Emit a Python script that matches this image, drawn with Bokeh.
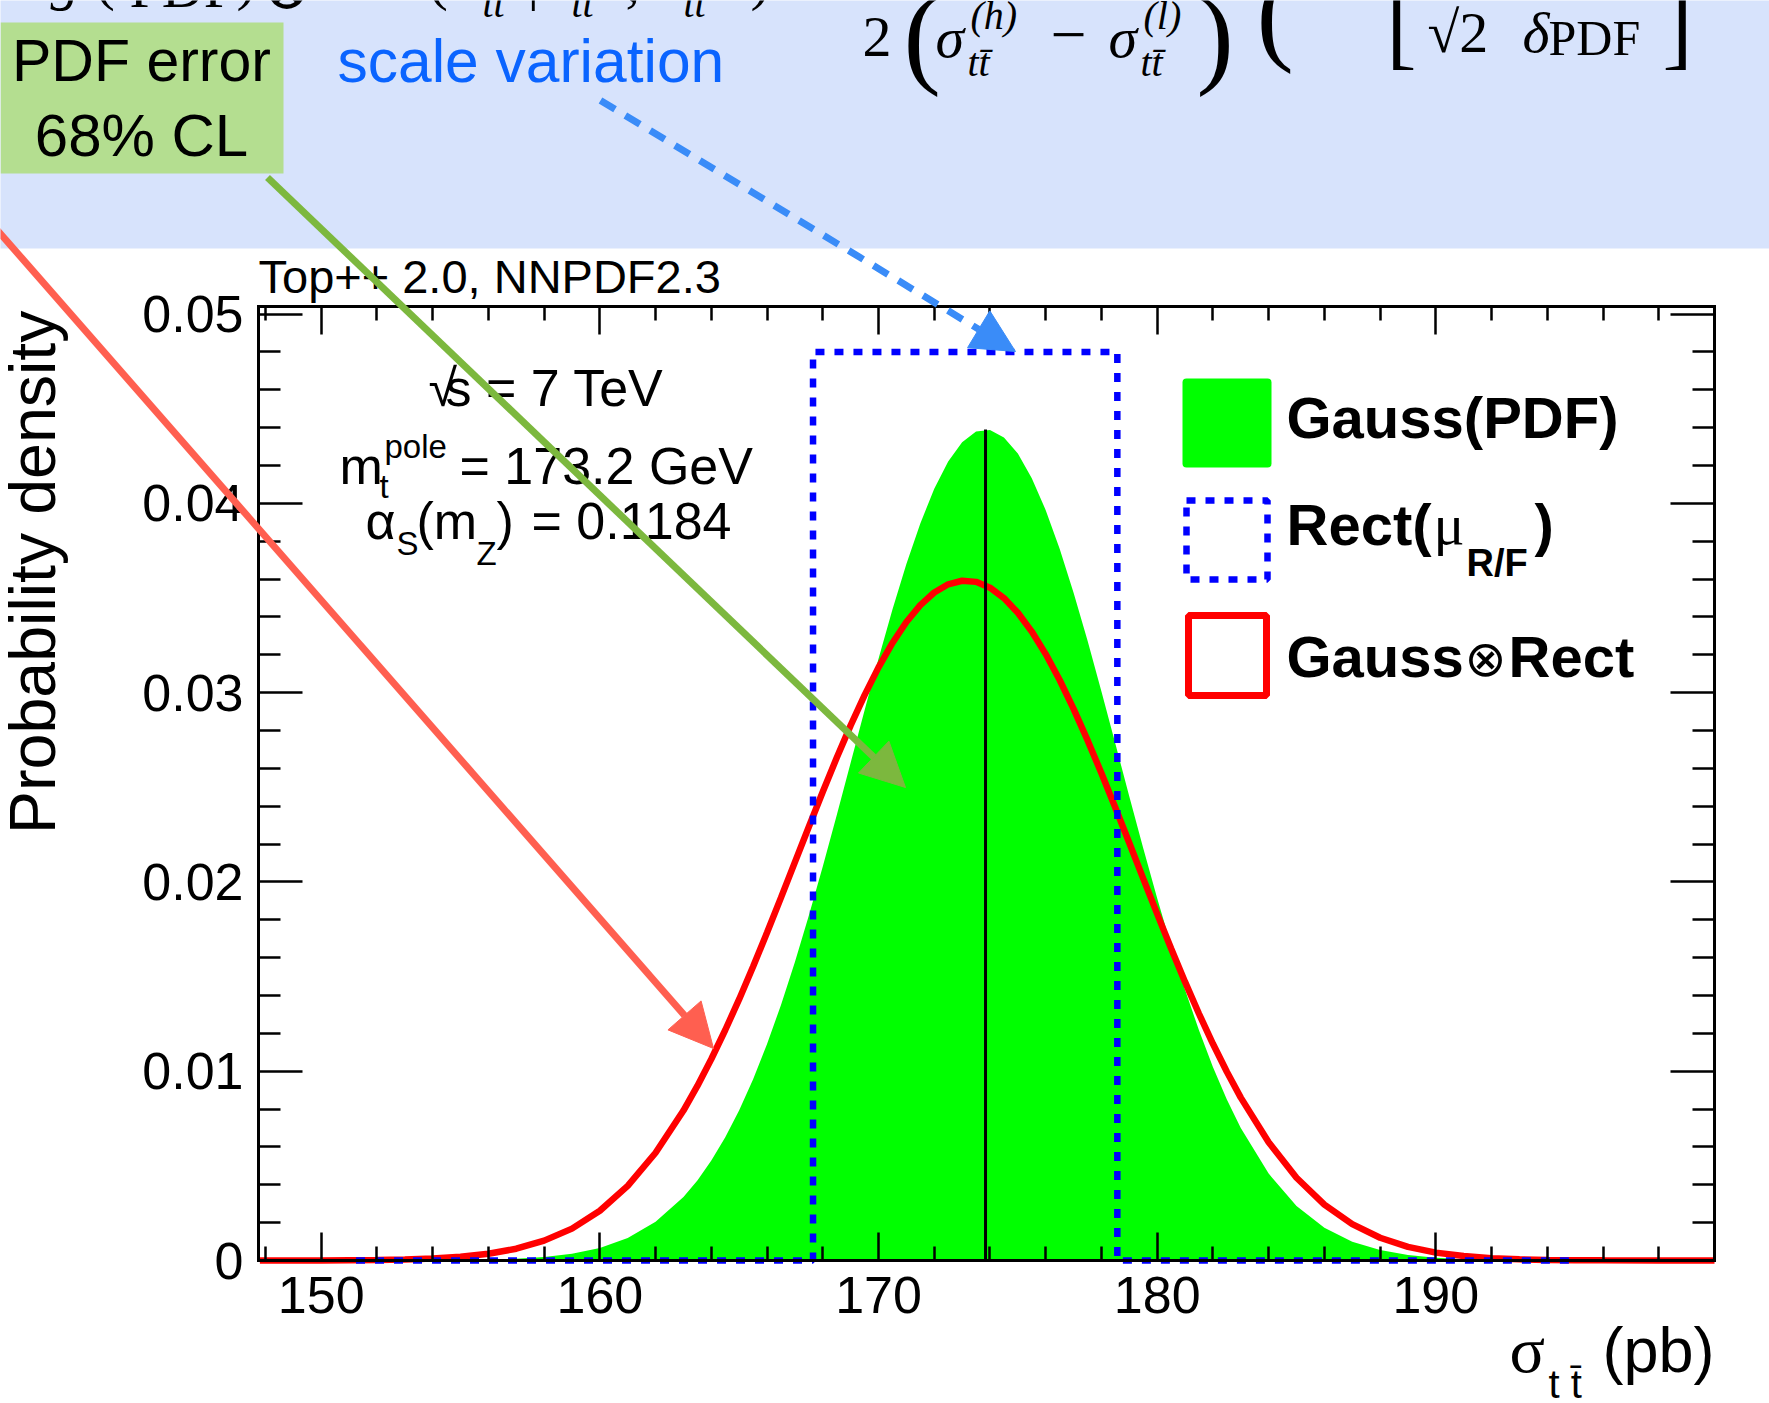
import math
from bokeh.plotting import figure
from bokeh.models import (Range1d, FixedTicker, LinearAxis, Label, BoxAnnotation,
                          Arrow, NormalHead, CustomJSTickFormatter)
from bokeh.embed import file_html
from bokeh.resources import INLINE

# ---------------- data ----------------
sigma_pb = [147.8, 150, 152, 153, 154, 155, 156, 157, 158, 159, 160, 161, 162, 163, 163.5, 164,
            164.5, 165, 165.5, 166, 166.5, 167, 167.5, 168, 168.5, 169, 169.5, 170, 170.5,
            171, 171.5, 172, 172.5, 173, 173.5, 174, 174.5, 175, 175.5, 176, 176.5, 177,
            177.5, 178, 178.5, 179, 179.5, 180, 180.5, 181, 181.5, 182, 182.5, 183, 184,
            185, 186, 187, 188, 189, 190, 191, 192, 193, 194, 195, 196, 198, 200]

gauss_pdf = [0.0, 0.0, 0.000001, 0.000003, 0.000008, 0.000019, 0.000041, 0.000089, 0.000181,
             0.000355, 0.000664, 0.00119, 0.002042, 0.003356, 0.00423, 0.005277, 0.00651,
             0.007941, 0.00958, 0.01144, 0.0135, 0.01577, 0.01822, 0.02081, 0.02352, 0.02629,
             0.02907, 0.03179, 0.03439, 0.0368, 0.03894, 0.04077, 0.04221, 0.04323, 0.04379,
             0.04387, 0.04348, 0.04263, 0.04133, 0.03964, 0.0376, 0.03528, 0.03275, 0.03006,
             0.0273, 0.02451, 0.02178, 0.01914, 0.01663, 0.0143, 0.01216, 0.01022, 0.00851,
             0.007, 0.00459, 0.00288, 0.00173, 0.00099, 0.00055, 0.00029, 0.00014, 0.00007,
             0.00003, 0.000014, 0.000005, 0.000002, 0.0, 0.0, 0.0]

gauss_x_rect = [0.000001, 0.000005, 0.000025, 0.000052, 0.000103, 0.000197, 0.000356, 0.000623,
                0.00105, 0.001684, 0.002628, 0.003942, 0.005691, 0.007921, 0.009224, 0.010644,
                0.012176, 0.013807, 0.015529, 0.017325, 0.019169, 0.021043, 0.022918, 0.024765,
                0.026559, 0.02827, 0.02987, 0.031334, 0.032624, 0.033731, 0.034624, 0.035292,
                0.035724, 0.035911, 0.035852, 0.035546, 0.034999, 0.034223, 0.033227, 0.032037,
                0.030668, 0.029141, 0.02749, 0.02574, 0.02392, 0.022057, 0.020177, 0.018313,
                0.016487, 0.014717, 0.013036, 0.011449, 0.009969, 0.008606, 0.006247, 0.004373,
                0.002951, 0.001919, 0.001201, 0.000722, 0.000417, 0.000233, 0.000125, 0.000063,
                0.000031, 0.000014, 0.000007, 0.000001, 0.0]

rect_domain = [151.25, 195.1]
rect_edges = [167.65, 178.57]
rect_height = 0.048
central_value = 173.84
central_height = 0.0439

x_ticks = [150, 160, 170, 180, 190]
x_tick_labels = ["150", "160", "170", "180", "190"]
x_minor_ticks = [148, 152, 154, 156, 158, 162, 164, 166, 168, 172, 174, 176, 178,
                 182, 184, 186, 188, 192, 194, 196, 198, 200]
y_ticks = [0, 0.01, 0.02, 0.03, 0.04, 0.05]
y_tick_labels = ["0", "0.01", "0.02", "0.03", "0.04", "0.05"]
y_minor_ticks = [0.002, 0.004, 0.006, 0.008, 0.012, 0.014, 0.016, 0.018, 0.022, 0.024,
                 0.026, 0.028, 0.032, 0.034, 0.036, 0.038, 0.042, 0.044, 0.046, 0.048]

# ---------------- layout ----------------
W, H = 1769, 1403
FL, FR, FT, FB = 258, 1714, 306, 1260          # plot frame in canvas pixels
XMIN, XMAX = 147.75, 200.0
YMIN, YMAX = 0.0, 0.0504


def X(px):
    return XMIN + (px - FL) * (XMAX - XMIN) / (FR - FL)


def Y(py):
    return YMAX - (py - FT) * (YMAX - YMIN) / (FB - FT)


# the bokeh frame covers the whole canvas; the axes are pinned to the data box
p = figure(width=W, height=H, x_range=Range1d(X(0), X(W)), y_range=Range1d(Y(H), Y(0)),
           x_axis_type=None, y_axis_type=None, output_backend="svg", toolbar_location=None,
           min_border_left=0, min_border_right=0, min_border_top=0, min_border_bottom=0,
           background_fill_color="white", border_fill_color="white", outline_line_color=None)

SANS = "Liberation Sans"
SERIF = "Liberation Serif"


def make_axis(loc, fixed, bounds, ticks, minor, tick_len, labels=None, standoff=10):
    ax = LinearAxis(ticker=FixedTicker(ticks=ticks, minor_ticks=minor),
                    fixed_location=fixed, bounds=bounds)
    ax.axis_line_color = "black"
    ax.axis_line_width = 3
    ax.axis_line_cap = "square"
    ax.major_tick_in = tick_len
    ax.major_tick_out = 0
    ax.minor_tick_in = tick_len // 2
    ax.minor_tick_out = 0
    ax.major_tick_line_color = "black"
    ax.minor_tick_line_color = "black"
    ax.major_tick_line_width = 2.5
    ax.minor_tick_line_width = 2.5
    if labels is not None:
        ax.major_label_overrides = dict(zip(ticks, labels))
        ax.major_label_text_font = SANS
        ax.major_label_text_font_size = "52px"
        ax.major_label_text_color = "black"
        ax.major_label_standoff = standoff
    else:
        ax.formatter = CustomJSTickFormatter(code="return ''")
        ax.major_label_text_font_size = "2px"
        ax.major_label_standoff = 0
    p.add_layout(ax, loc)


make_axis("below", YMIN, (XMIN, XMAX), x_ticks, x_minor_ticks, 28, x_tick_labels, standoff=16)
make_axis("left", XMIN, (YMIN, YMAX), y_ticks, y_minor_ticks, 44, y_tick_labels, standoff=15)
make_axis("above", YMAX, (XMIN, XMAX), x_ticks, x_minor_ticks, 28)
make_axis("right", XMAX, (YMIN, YMAX), y_ticks, y_minor_ticks, 44)

# ---------------- glyphs ----------------
p.varea(x=sigma_pb, y1=[0.0] * len(sigma_pb), y2=gauss_pdf, fill_color="#00ff00")
p.line(sigma_pb, gauss_x_rect, line_color="#ff0000", line_width=6.5)
rect_x = [rect_domain[0], rect_edges[0], rect_edges[0], rect_edges[1], rect_edges[1], rect_domain[1]]
rect_y = [0.0, 0.0, rect_height, rect_height, 0.0, 0.0]
p.line(rect_x, rect_y, line_color="#0000ff", line_width=6.5, line_dash="9 10")
p.segment(x0=[central_value], y0=[0.0], x1=[central_value], y1=[central_height],
          line_color="black", line_width=3)


# ---------------- annotations ----------------
def box(x0, y0, x1, y1, fill=None, line=None, lw=0, dash="solid", radius=0):
    b = BoxAnnotation(left=X(x0), right=X(x1), top=Y(y0), bottom=Y(y1),
                      fill_color=fill if fill else "white", fill_alpha=1 if fill else 0,
                      line_color=line if line else "white", line_alpha=1 if line else 0,
                      line_width=lw, line_dash=dash, border_radius=radius)
    p.add_layout(b)


K = 0.37   # offset from text centre line to the alphabetic baseline, in em


def lab(text, px, py, size, font=SANS, style="normal", color="black", align="left",
        angle=0.0):
    if angle == 0.0:
        ax_, ay_ = px, py - K * size
    else:
        ax_, ay_ = px - K * size, py
    p.add_layout(Label(x=X(ax_), y=Y(ay_), text=text, text_font=font,
                       text_font_size=f"{size}px", text_font_style=style, text_color=color,
                       text_align=align, text_baseline="middle", angle=angle))


# top band
box(-10, -10, 1790, 248, fill="#d7e3fc")
box(0, 22, 283, 173, fill="#b4de90")
lab("PDF error", 141, 82, 59, align="center")
lab("68% CL", 141, 157, 60, align="center")
lab("scale variation", 337, 83, 60.5, color="#0a64ff")

# formula fragments (serif)
for t, x, y, s, st in [
    ("g", 50, 0, 58, "italic"), ("(", 95, 0, 58, "normal"), ("PDF", 129, 8, 58, "normal"),
    (")", 236, 0, 58, "normal"), ("(", 428, 0, 58, "normal"), ("tt", 482, 18, 40, "italic"),
    ("|", 527, 0, 58, "normal"), ("tt", 571, 18, 40, "italic"), (",", 625, 3, 58, "normal"),
    ("tt", 683, 18, 40, "italic"), (")", 750, 0, 58, "normal"),
    ("2", 862, 58, 58, "normal"), ("(", 903, 76, 112, "normal"), ("σ", 935, 58, 58, "italic"),
    ("(h)", 970, 30, 40, "italic"), ("tt̄", 967, 77, 40, "italic"), ("−", 1050, 58, 64, "normal"),
    ("σ", 1108, 58, 58, "italic"), ("(l)", 1143, 30, 40, "italic"), ("tt̄", 1140, 77, 40, "italic"),
    (")", 1196, 76, 112, "normal"), ("(", 1256, 53, 112, "normal"), ("[", 1386, 60, 90, "normal"),
    ("√2", 1427, 53, 58, "normal"), ("δ", 1522, 53, 58, "italic"), ("PDF", 1548, 56, 50, "normal"),
    ("]", 1662, 60, 90, "normal")]:
    lab(t, x, y, s, font=SERIF, style=st)
lab("⊗", 262, 10, 58, font="DejaVu Serif")

# plot texts
lab("Top++ 2.0, NNPDF2.3", 258, 293, 47)
lab("√", 428, 407, 52)
lab("s = 7 TeV", 445, 407, 52)
lab("m", 339, 485, 52)
lab("t", 379, 498, 33)
lab("pole", 384, 458, 33)
lab("= 173.2 GeV", 459, 485, 52)
lab("α", 365, 540, 52)
lab("S", 396, 555, 33)
lab("(m", 416, 540, 52)
lab("Z", 476, 565, 33)
lab(")", 496, 540, 52)
lab("= 0.1184", 531, 540, 52)

# legend
box(1182, 378, 1271, 467, fill="#00ff00", radius=4)
box(1186, 500, 1267, 579, line="#0000ff", lw=6.5, dash="9 10")
box(1188, 615, 1266, 695, line="#ff0000", lw=7)
lab("Gauss(PDF)", 1286, 438, 58, style="bold")
lab("Rect(", 1286, 545, 58, style="bold")
lab("μ", 1433, 545, 58, font=SERIF)
lab("R/F", 1466, 577, 38, style="bold")
lab(")", 1534, 545, 58, style="bold")
lab("Gauss", 1286, 677, 58, style="bold")
lab("⊗", 1464, 677, 50, font="DejaVu Sans")
lab("Rect", 1508, 677, 58, style="bold")

# axis titles
lab("Probability density", 56, 310, 64.5, align="right", angle=math.pi / 2)
lab("σ", 1509, 1373, 66, font=SERIF)
lab("t t̄", 1548, 1398, 40)
lab("(pb)", 1714, 1373, 63, align="right")


# arrows
def arrow(x0, y0, x1, y1, color, width, size, dash="solid"):
    p.add_layout(Arrow(end=NormalHead(size=size, fill_color=color, line_color=color, line_width=1),
                       x_start=X(x0), y_start=Y(y0), x_end=X(x1), y_end=Y(y1),
                       line_color=color, line_width=width, line_dash=dash))


arrow(-30, 199, 713, 1048, "#ff5f50", 7, 44)
arrow(267, 177, 905, 787, "#7cb83e", 7, 44)
arrow(600, 100, 1015, 351, "#3a8cf8", 7, 43, dash="17 12")

open("out.html", "w").write(file_html(p, INLINE))
